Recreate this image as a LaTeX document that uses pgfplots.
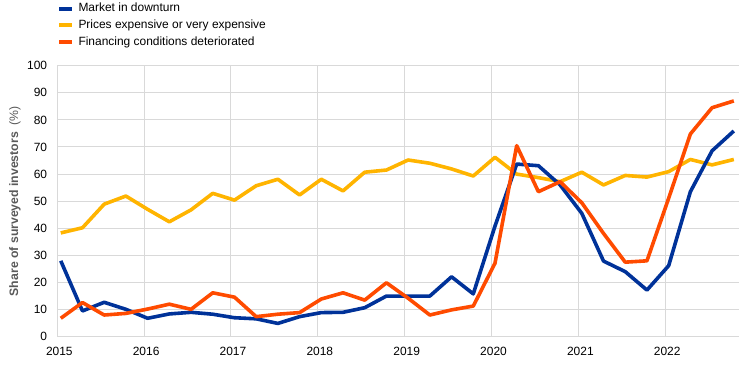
\documentclass[border=0pt]{standalone}
\usepackage{fontspec}
\setmainfont{Liberation Sans}
\usepackage{pgfplots}
\usepackage{pgfplotstable}
\pgfplotsset{compat=1.18}
\definecolor{ecbblue}{HTML}{003299}
\definecolor{ecbyellow}{HTML}{FFB400}
\definecolor{ecborange}{HTML}{FF4B00}
\definecolor{gridgray}{HTML}{D9D9D9}
\definecolor{labelgray}{HTML}{595959}
\pgfplotsset{legend image code/.code={\draw[#1,line width=4bp] (0bp,0bp) -- (12bp,0bp);}}

\pgfplotstableread{
x blue yellow orange
2015.04 28.0 38.3 6.8
2015.29 9.5 40.2 12.6
2015.54 12.7 48.9 8.0
2015.79 10.1 51.9 8.6
2016.04 6.8 47.0 10.2
2016.29 8.4 42.4 12.0
2016.54 9.0 46.8 10.1
2016.79 8.3 52.9 16.2
2017.04 7.0 50.4 14.6
2017.29 6.6 55.7 7.4
2017.54 4.9 58.1 8.3
2017.79 7.4 52.3 8.9
2018.04 8.9 58.1 13.9
2018.29 9.0 53.8 16.2
2018.54 10.7 60.7 13.5
2018.79 15.0 61.5 19.9
2019.04 15.0 65.2 14.2
2019.29 15.0 64.0 8.0
2019.54 22.1 61.9 9.9
2019.79 15.8 59.3 11.3
2020.04 40.8 66.2 27.1
2020.29 63.7 60.0 70.5
2020.54 63.1 58.7 53.5
2020.79 56.0 57.2 57.2
2021.04 45.5 60.7 49.4
2021.29 27.9 56.0 38.1
2021.54 24.0 59.5 27.5
2021.79 17.2 58.9 28.0
2022.04 26.2 60.9 51.1
2022.29 53.5 65.4 74.8
2022.54 68.6 63.4 84.5
2022.79 75.9 65.4 87.0
}\data

\begin{document}
\begin{tikzpicture}[x=1bp,y=1bp]
\useasboundingbox (0,0) rectangle (744,367);
\begin{axis}[
  at={(57.3bp,30.3bp)}, anchor=south west,
  scale only axis, width=681.7bp, height=271bp,
  xmin=2015, xmax=2022.85, ymin=0, ymax=100,
  xtick={2015,2016,2017,2018,2019,2020,2021,2022},
  xticklabels={2015,2016,2017,2018,2019,2020,2021,2022},
  ytick={0,10,20,30,40,50,60,70,80,90,100},
  grid=major,
  major grid style={draw=gridgray, line width=1bp},
  axis x line*=bottom, axis y line*=left,
  axis line style={draw=gridgray, line width=1bp},
  major tick length=0pt,
  tick label style={font=\fontsize{12}{14}\selectfont, text=black},
  /pgf/number format/assume math mode=true,
  yticklabel style={inner sep=0pt, xshift=-10bp},
  xticklabel style={inner sep=0pt, yshift=-10bp, xshift=2bp},
  ylabel={\textbf{Share of surveyed investors}\ \ (\%)},
  ylabel style={at={(axis description cs:-0.0621,0.5)}, anchor=center, font=\fontsize{12.3}{14}\selectfont, text=labelgray},
  legend cell align=left,
  legend style={at={(axis description cs:0,1)}, anchor=north west, yshift=64bp, xshift=0bp,
    draw=none, fill=none, inner sep=0pt, row sep=3.2bp, column sep=4bp,
    font=\fontsize{12}{14}\selectfont,
    nodes={inner sep=1bp, text height=9bp, text depth=2.5bp}},
]
\addlegendimage{ecbblue, line width=4bp}
\addlegendentry{Market in downturn}
\addlegendimage{ecbyellow, line width=4bp}
\addlegendentry{Prices expensive or very expensive}
\addlegendimage{ecborange, line width=4bp}
\addlegendentry{Financing conditions deteriorated}
\addplot[forget plot, ecbyellow, line width=3.6bp, line join=round] table[x=x, y=yellow] {\data};
\addplot[forget plot, ecbblue, line width=3.6bp, line join=round] table[x=x, y=blue] {\data};
\addplot[forget plot, ecborange, line width=3.6bp, line join=round] table[x=x, y=orange] {\data};
\end{axis}
\end{tikzpicture}
\end{document}
